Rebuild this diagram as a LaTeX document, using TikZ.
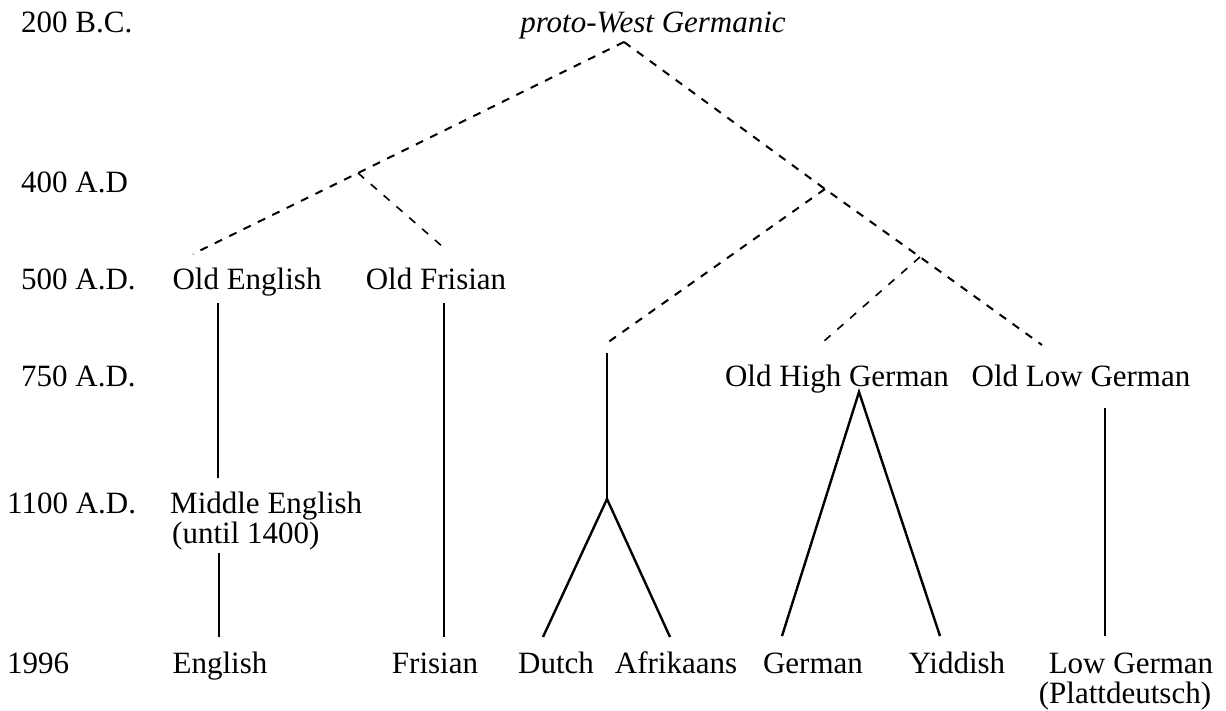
\documentclass[tikz,border=0pt]{standalone}
\usepackage{fontspec}
\setmainfont{Liberation Serif}
\begin{document}
\begin{tikzpicture}[x=1pt,y=-1pt,
  lbl/.style={inner sep=0pt,font=\fontsize{31}{36}\selectfont,anchor=base},
  yr/.style={lbl,anchor=base west},
  dsh/.style={line width=2pt,dash pattern=on 8pt off 8pt},
  dshthin/.style={line width=1.6pt,dash pattern=on 8pt off 9pt},
  sol/.style={line width=2.4pt}]
\useasboundingbox (0,0) rectangle (1226,711);
% time axis
\node[yr] (t1) at (21,33) {200 B.C.};
\node[yr] (t2) at (21,193) {400 A.D};
\node[yr] (t3) at (21,290) {500 A.D.};
\node[yr] (t4) at (21,386) {750 A.D.};
\node[yr] (t5) at (7,513) {1100 A.D.};
\node[yr] (t6) at (7,673) {1996};
% languages
\node[lbl] (pwg) at (653,33) {\itshape proto-West Germanic};
\node[lbl] (oe) at (247,290) {Old English};
\node[lbl] (ofr) at (436,290) {Old Frisian};
\node[lbl] (ohg) at (837,386) {Old High German};
\node[lbl] (olg) at (1081,386) {Old Low German};
\node[lbl,anchor=base west] (me) at (170,513) {Middle English};
\node[lbl,anchor=base west] (me2) at (172,543) {(until 1400)};
\node[lbl] (en) at (220,673) {English};
\node[lbl] (fr) at (435,673) {Frisian};
\node[lbl] (du) at (556,673) {Dutch};
\node[lbl] (af) at (676,673) {Afrikaans};
\node[lbl] (ge) at (813,673) {German};
\node[lbl] (yi) at (957,673) {Yiddish};
\node[lbl] (lg) at (1131,673) {Low German};
\node[lbl] (lg2) at (1125,703) {(Plattdeutsch)};
% junctions and line ends
\coordinate (apex) at (624,42);
\coordinate (jA) at (358,173);
\coordinate (eOE) at (193,254);
\coordinate (eOF) at (443,247);
\coordinate (jB) at (825,189);
\coordinate (jC) at (920,257);
\coordinate (eDu) at (607,343);
\coordinate (eOHG) at (823,342);
\coordinate (eOLG) at (1042,345);
\coordinate (oeT) at (218,303);
\coordinate (oeB) at (218,478);
\coordinate (meT) at (219,553);
\coordinate (enT) at (219,637);
\coordinate (ofB) at (444,303);
\coordinate (frT) at (444,637);
\coordinate (duT) at (607,353);
\coordinate (duJ) at (607,499);
\coordinate (duE) at (543,637);
\coordinate (afE) at (670,637);
\coordinate (ohgB) at (859,392);
\coordinate (geE) at (782,636);
\coordinate (yiE) at (940,636);
\coordinate (olgB) at (1105,408);
\coordinate (lgT) at (1105,636);
% dashed
\draw[dsh] (apex) -- (jA) -- (eOE);
\draw[dshthin] (jA) -- (eOF);
\draw[dsh] (apex) -- (jB) -- (jC) -- (eOLG);
\draw[dsh] (jB) -- (eDu);
\draw[dshthin] (jC) -- (eOHG);
% solid
\draw[sol] (oeT) -- (oeB);
\draw[sol] (meT) -- (enT);
\draw[sol] (ofB) -- (frT);
\draw[sol] (duT) -- (duJ);
\draw[sol] (duE) -- (duJ) -- (afE);
\draw[sol] (geE) -- (ohgB) -- (yiE);
\draw[sol] (olgB) -- (lgT);
\end{tikzpicture}
\end{document}
